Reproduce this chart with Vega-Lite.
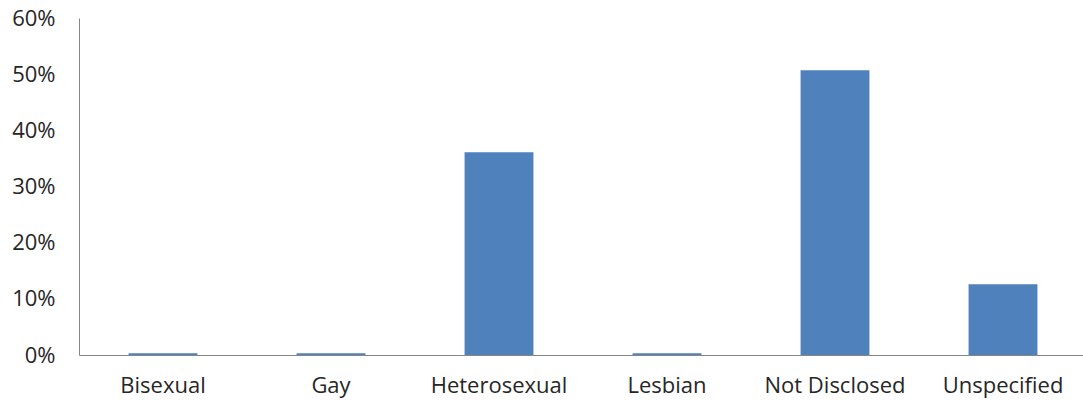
{
  "$schema": "https://vega.github.io/schema/vega-lite/v6.json",
  "autosize": "none",
  "width": 1008,
  "height": 337,
  "padding": {"left": 79, "top": 18, "right": 0, "bottom": 50},
  "background": "white",
  "data": {"values": [
    {"category": "Bisexual", "share": 0.003},
    {"category": "Gay", "share": 0.003},
    {"category": "Heterosexual", "share": 0.361},
    {"category": "Lesbian", "share": 0.003},
    {"category": "Not Disclosed", "share": 0.507},
    {"category": "Unspecified", "share": 0.126}
  ]},
  "mark": {"type": "bar", "color": "#4F81BD"},
  "encoding": {
    "x": {
      "field": "category", "type": "nominal", "sort": null,
      "scale": {"paddingInner": 0.59, "paddingOuter": 0.295},
      "axis": {"title": null, "labelAngle": 0, "ticks": false, "domainColor": "#868686", "domainWidth": 1,
               "labelFont": "Open Sans", "labelFontSize": 22, "labelColor": "#262626", "labelPadding": 20}
    },
    "y": {
      "field": "share", "type": "quantitative",
      "scale": {"domain": [0, 0.6], "nice": false},
      "axis": {"title": null, "format": ".0%", "values": [0, 0.1, 0.2, 0.3, 0.4, 0.5, 0.6], "grid": false, "ticks": false,
               "domainColor": "#868686", "domainWidth": 1,
               "labelFont": "Open Sans", "labelFontSize": 22, "labelColor": "#262626", "labelPadding": 24}
    }
  },
  "config": {"view": {"stroke": null}}
}
